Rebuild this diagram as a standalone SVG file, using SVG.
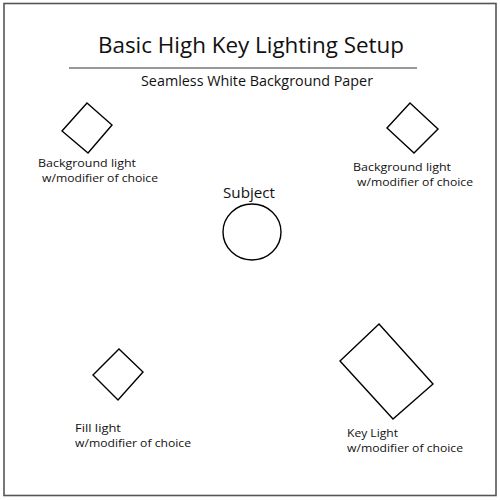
<svg xmlns="http://www.w3.org/2000/svg" width="500" height="500" viewBox="0 0 500 500">
<style>
text{font-family:"Open Sans","Noto Sans",sans-serif;fill:#111}
.lbl{font-size:11.5px}
.shape{fill:#fff;stroke:#000;stroke-width:1.4}
</style>
<rect x="0" y="0" width="500" height="500" fill="#fff"/>
<rect x="4" y="3.5" width="492" height="492" fill="none" stroke="#555" stroke-width="1.6"/>
<g id="title">
<text x="251" y="53" font-size="21.5" text-anchor="middle" textLength="306" lengthAdjust="spacingAndGlyphs">Basic High Key Lighting Setup</text>
<line x1="69" y1="68" x2="417" y2="68" stroke="#333" stroke-width="1.2"/>
<text x="257" y="86" font-size="14" text-anchor="middle" textLength="232" lengthAdjust="spacingAndGlyphs">Seamless White Background Paper</text>
</g>
<g id="bg-light-left">
<polygon class="shape" points="87,103 112,125 88,153 62,131"/>
<text class="lbl" x="38" y="167" textLength="98" lengthAdjust="spacingAndGlyphs">Background light</text>
<text class="lbl" x="42" y="182" textLength="116" lengthAdjust="spacingAndGlyphs">w/modifier of choice</text>
</g>
<g id="bg-light-right">
<polygon class="shape" points="410,103 438,129 414,153 387,128"/>
<text class="lbl" x="353" y="171" textLength="98" lengthAdjust="spacingAndGlyphs">Background light</text>
<text class="lbl" x="357" y="186" textLength="116" lengthAdjust="spacingAndGlyphs">w/modifier of choice</text>
</g>
<g id="subject">
<text x="249" y="198" font-size="15" text-anchor="middle" textLength="52" lengthAdjust="spacingAndGlyphs">Subject</text>
<ellipse class="shape" cx="252" cy="232" rx="29" ry="28"/>
</g>
<g id="fill-light">
<polygon class="shape" points="119,349 143,372 118,400 93,375"/>
<text class="lbl" x="75" y="432" textLength="46" lengthAdjust="spacingAndGlyphs">Fill light</text>
<text class="lbl" x="75" y="447" textLength="116" lengthAdjust="spacingAndGlyphs">w/modifier of choice</text>
</g>
<g id="key-light">
<polygon class="shape" points="379,324 433,384 393,419 340,361"/>
<text class="lbl" x="347" y="437" textLength="51" lengthAdjust="spacingAndGlyphs">Key Light</text>
<text class="lbl" x="347" y="452" textLength="116" lengthAdjust="spacingAndGlyphs">w/modifier of choice</text>
</g>
<g id="connectors"/>
</svg>
